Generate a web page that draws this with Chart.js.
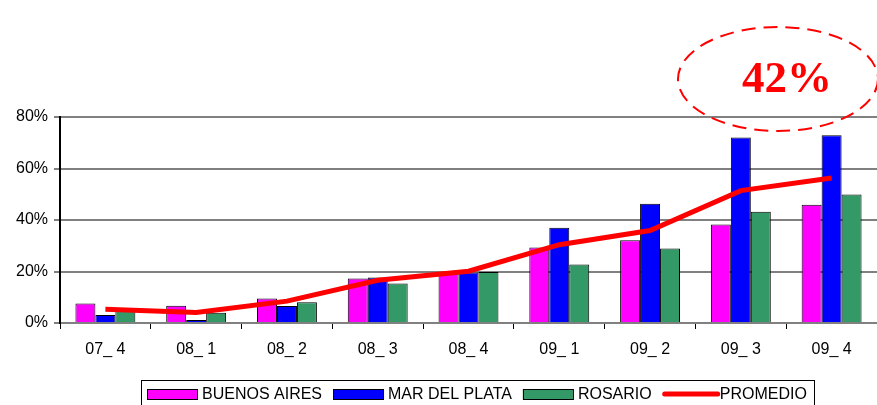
<!DOCTYPE html>
<html>
<head>
<meta charset="utf-8">
<script src="https://cdn.jsdelivr.net/npm/chart.js@4/dist/chart.umd.min.js"></script>
<style>
  html, body { margin: 0; padding: 0; background: #fff; overflow: hidden; }
  #wrap { width: 877px; height: 405px; }
</style>
</head>
<body>
<div id="wrap"><canvas id="chart"></canvas></div>
<script>
const categories = ["07_ 4", "08_ 1", "08_ 2", "08_ 3", "08_ 4", "09_ 1", "09_ 2", "09_ 3", "09_ 4"];
const buenosAires = [7.6, 6.7, 9.5, 17.3, 19.8, 29.3, 32.1, 38.3, 45.9];
const marDelPlata = [3.1, 1.2, 6.6, 17.7, 19.6, 37.0, 46.3, 72.0, 72.9];
const rosario = [5.0, 4.0, 8.1, 15.3, 19.8, 22.7, 28.9, 43.2, 49.9];
const promedio = [5.3, 4.1, 8.5, 16.6, 20.1, 30.4, 35.9, 51.4, 56.3];
const yTicks = [0, 20, 40, 60, 80];
const calloutText = "42%";

Chart.defaults.font.family = "'Liberation Sans', Arial, sans-serif";
Chart.defaults.color = "#000";

// dashed ellipse with the big number, top right
const callout = {
  id: "callout",
  afterDraw(chart) {
    const ctx = chart.ctx;
    ctx.save();
    ctx.strokeStyle = "#ff0000";
    ctx.lineWidth = 2;
    ctx.setLineDash([14, 8]);
    ctx.beginPath();
    ctx.ellipse(778, 79, 100, 52, 0, 0, Math.PI * 2);
    ctx.stroke();
    ctx.setLineDash([]);
    ctx.fillStyle = "#ff0000";
    ctx.font = "bold 45px 'Liberation Serif', 'Times New Roman', serif";
    ctx.textAlign = "center";
    ctx.textBaseline = "alphabetic";
    ctx.fillText(calloutText, 787, 92);
    ctx.restore();
  }
};

// legend in a frame, drawn by hand (swatches wide and flat like the original)
const boxLegend = {
  id: "boxLegend",
  afterDraw(chart) {
    const ctx = chart.ctx;
    const sets = chart.data.datasets;
    ctx.save();
    ctx.font = "16px 'Liberation Sans', Arial, sans-serif";
    ctx.textBaseline = "middle";
    ctx.textAlign = "left";
    const swW = 50, swH = 10, gap = 5, itemGap = 11;
    const cy = 394;
    let x = 147;
    const startX = x;
    sets.forEach((ds) => {
      if (ds.type === "line") {
        ctx.strokeStyle = ds.borderColor;
        ctx.lineWidth = 5;
        ctx.lineCap = "round";
        ctx.beginPath();
        ctx.moveTo(x + 2, cy);
        ctx.lineTo(x + 55, cy);
        ctx.stroke();
        x += 57;
      } else {
        ctx.fillStyle = ds.backgroundColor;
        ctx.fillRect(x, cy - swH / 2, swW, swH);
        ctx.strokeStyle = "#000";
        ctx.lineWidth = 1;
        ctx.strokeRect(x + 0.5, cy - swH / 2 + 0.5, swW, swH);
        x += swW + gap;
      }
      ctx.fillStyle = "#000";
      ctx.fillText(ds.label, x, cy + 1);
      x += ctx.measureText(ds.label).width + itemGap;
    });
    ctx.strokeStyle = "#000";
    ctx.lineWidth = 1;
    ctx.strokeRect(startX - 6 + 0.5, 380.5, Math.round(x - itemGap + 7 - (startX - 6)), 40);
    ctx.restore();
  }
};

const barStyle = { borderColor: "#000", borderWidth: 1, barPercentage: 1, categoryPercentage: 0.66 };

new Chart(document.getElementById("chart"), {
  type: "bar",
  data: {
    labels: categories,
    datasets: [
      Object.assign({ label: "BUENOS AIRES", data: buenosAires, backgroundColor: "#ff00ff", order: 1 }, barStyle),
      Object.assign({ label: "MAR DEL PLATA", data: marDelPlata, backgroundColor: "#0000ff", order: 1 }, barStyle),
      Object.assign({ label: "ROSARIO", data: rosario, backgroundColor: "#339966", order: 1 }, barStyle),
      {
        type: "line",
        label: "PROMEDIO",
        data: promedio,
        borderColor: "#ff0000",
        backgroundColor: "#ff0000",
        borderWidth: 5,
        tension: 0,
        pointRadius: 0,
        order: 0
      }
    ]
  },
  options: {
    responsive: true,
    maintainAspectRatio: false,
    animation: false,
    layout: { padding: { top: 117, right: 0, left: 0, bottom: 30 } },
    plugins: {
      tooltip: { enabled: false },
      legend: { display: false }
    },
    scales: {
      x: {
        grid: { drawOnChartArea: false, drawTicks: true, tickLength: 6, tickColor: "#000", offset: true },
        border: { color: "#808080", width: 2 },
        ticks: { font: { size: 16 }, padding: 11, maxRotation: 0 },
        afterFit(scale) { scale.height = 52; }
      },
      y: {
        min: 0,
        max: 80,
        afterBuildTicks(scale) { scale.ticks = yTicks.map(v => ({ value: v })); },
        grid: { color: "#808080", lineWidth: 2, tickLength: 6, tickColor: "#808080" },
        border: { color: "#000", width: 2 },
        ticks: { font: { size: 16 }, padding: 6, callback: v => v + "%" },
        afterFit(scale) { scale.width = 60; }
      }
    }
  },
  plugins: [callout, boxLegend]
});
</script>
</body>
</html>
